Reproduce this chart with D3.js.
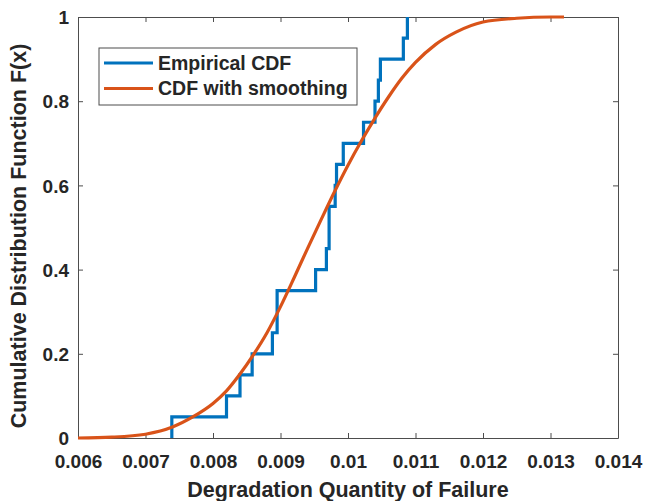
<!DOCTYPE html>
<html>
<head>
<meta charset="utf-8">
<script src="https://cdn.jsdelivr.net/npm/d3@7"></script>
<style>
  body { margin: 0; background: #fff; }
  text { font-family: "Liberation Sans", Arial, sans-serif; font-weight: bold; fill: #262626; }
</style>
</head>
<body>
<div id="chart"></div>
<script>
// sorted failure values (empirical CDF, 20 samples)
var empX = [0.00739, 0.00820, 0.00840, 0.00858, 0.00888, 0.00895, 0.00895, 0.00952, 0.00968, 0.00972,
            0.00972, 0.00981, 0.00983, 0.00993, 0.01023, 0.01040, 0.01045, 0.01048, 0.01082, 0.01088];
var empF = [0.05, 0.10, 0.15, 0.20, 0.25, 0.30, 0.35, 0.40, 0.45, 0.50,
            0.55, 0.60, 0.65, 0.70, 0.75, 0.80, 0.85, 0.90, 0.95, 1.00];

// smoothed CDF
var smoothX = [0.0060, 0.0065, 0.0070, 0.0074, 0.0077, 0.0080, 0.0082, 0.0084, 0.0086, 0.0088,
               0.0090, 0.0092, 0.0094, 0.0096, 0.0098, 0.0100, 0.0102, 0.0104, 0.0106, 0.0108,
               0.0110, 0.0113, 0.0116, 0.0120, 0.0125, 0.0130, 0.0132];
var smoothF = [0.000, 0.002, 0.009, 0.026, 0.050, 0.082, 0.112, 0.152, 0.198, 0.250,
               0.312, 0.380, 0.450, 0.518, 0.585, 0.648, 0.706, 0.760, 0.810, 0.855,
               0.892, 0.935, 0.964, 0.988, 0.997, 1.000, 1.000];

var xTicks = [0.006, 0.007, 0.008, 0.009, 0.010, 0.011, 0.012, 0.013, 0.014];
var xTickLabels = ["0.006", "0.007", "0.008", "0.009", "0.01", "0.011", "0.012", "0.013", "0.014"];
var yTicks = [0, 0.2, 0.4, 0.6, 0.8, 1];
var yTickLabels = ["0", "0.2", "0.4", "0.6", "0.8", "1"];

var seriesNames = ["Empirical CDF", "CDF with smoothing"];
var seriesColors = ["#0072BD", "#D95319"];

var W = 657, H = 501;
var margin = {top: 17, right: 39, bottom: 63, left: 78},
    w = W - margin.left - margin.right,
    h = H - margin.top - margin.bottom;

var svg = d3.select("#chart").append("svg")
    .attr("width", W)
    .attr("height", H);

var g = svg.append("g")
    .attr("transform", "translate(" + margin.left + "," + margin.top + ")");

var x = d3.scaleLinear().domain([0.006, 0.014]).range([0, w]);
var y = d3.scaleLinear().domain([0, 1]).range([h, 0]);

var axisColor = "#4d4d4d";
var tickLen = 5;

// axes (ticks pointing inward, box on)
var xAxis = d3.axisBottom(x).tickValues(xTicks)
    .tickSizeInner(-tickLen).tickSizeOuter(0)
    .tickFormat(function(d, i) { return xTickLabels[i]; });
var yAxis = d3.axisLeft(y).tickValues(yTicks)
    .tickSizeInner(-tickLen).tickSizeOuter(0)
    .tickFormat(function(d, i) { return yTickLabels[i]; });

var gx = g.append("g").attr("transform", "translate(0," + h + ")").call(xAxis);
var gy = g.append("g").call(yAxis);

g.append("g").call(d3.axisTop(x).tickValues(xTicks).tickSizeInner(-tickLen).tickSizeOuter(0).tickFormat(""));
g.append("g").attr("transform", "translate(" + w + ",0)")
    .call(d3.axisRight(y).tickValues(yTicks).tickSizeInner(-tickLen).tickSizeOuter(0).tickFormat(""));

g.selectAll(".domain").attr("stroke", axisColor);
g.selectAll(".tick line").attr("stroke", axisColor);

gx.selectAll(".tick text")
    .attr("dy", null)
    .attr("y", 30)
    .style("font-size", "19px")
    .attr("fill", "#262626");
gy.selectAll(".tick text")
    .attr("x", -9)
    .attr("dy", "0.35em")
    .style("font-size", "19px")
    .attr("fill", "#262626");

// axis titles
svg.append("text")
    .attr("x", margin.left + w / 2)
    .attr("y", 497)
    .attr("text-anchor", "middle")
    .style("font-size", "21.5px")
    .text("Degradation Quantity of Failure");

svg.append("text")
    .attr("transform", "translate(26,236) rotate(-90)")
    .attr("text-anchor", "middle")
    .style("font-size", "21.5px")
    .text("Cumulative Distribution Function F(x)");

// empirical step curve
var empPts = [[empX[0], 0]].concat(empX.map(function(d, i) { return [d, empF[i]]; }));
var stepLine = d3.line()
    .x(function(d) { return x(d[0]); })
    .y(function(d) { return y(d[1]); })
    .curve(d3.curveStepAfter);

g.append("path")
    .datum(empPts)
    .attr("d", stepLine)
    .attr("fill", "none")
    .attr("stroke", seriesColors[0])
    .attr("stroke-width", 3.2);

// smoothed curve
var smoothLine = d3.line()
    .x(function(d, i) { return x(smoothX[i]); })
    .y(function(d) { return y(d); })
    .curve(d3.curveMonotoneX);

g.append("path")
    .datum(smoothF)
    .attr("d", smoothLine)
    .attr("fill", "none")
    .attr("stroke", seriesColors[1])
    .attr("stroke-width", 3.2);

// legend
var legend = svg.append("g").attr("transform", "translate(99,48)");
legend.append("rect")
    .attr("width", 258)
    .attr("height", 57)
    .attr("fill", "#fff")
    .attr("stroke", axisColor)
    .attr("stroke-width", 1);

var items = legend.selectAll(".legend")
    .data(seriesNames)
    .enter().append("g")
        .attr("class", "legend")
        .attr("transform", function(d, i) { return "translate(0," + (15 + i * 25.5) + ")"; });

items.append("line")
    .attr("x1", 5).attr("x2", 54)
    .attr("stroke", function(d, i) { return seriesColors[i]; })
    .attr("stroke-width", 3.2);

items.append("text")
    .attr("x", 59)
    .attr("dy", "0.35em")
    .style("font-size", "19.5px")
    .text(function(d) { return d; });
</script>
</body>
</html>
